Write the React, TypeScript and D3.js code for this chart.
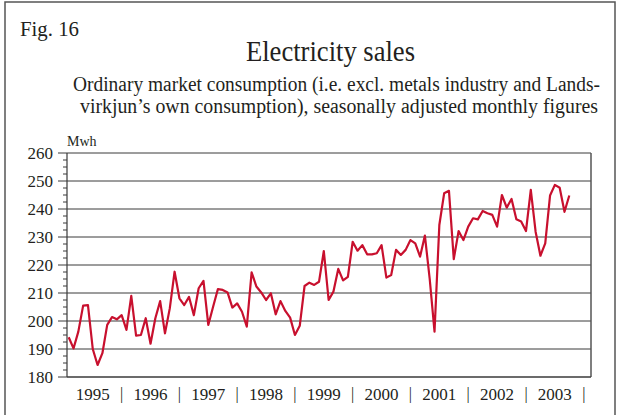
import React from "react";
import * as d3 from "d3";

const title = "Electricity sales";
const subtitle1 = "Ordinary market consumption (i.e. excl. metals industry and Lands-";
const subtitle2 = "virkjun\u2019s own consumption), seasonally adjusted monthly figures";
const figLabel = "Fig. 16";
const unitLabel = "Mwh";

const years = [1995, 1996, 1997, 1998, 1999, 2000, 2001, 2002, 2003];
const yTicks = [180, 190, 200, 210, 220, 230, 240, 250, 260];

// Monthly values, Jan 1995 – Sep 2003
const sales = [
  194.2, 190.2, 196.2, 205.5, 205.7, 190.0, 184.3, 188.5, 198.6, 201.4, 200.6, 202.1,
  196.8, 209.0, 194.8, 195.0, 201.0, 191.9, 201.0, 207.1, 195.6, 204.5, 217.6, 208.1,
  205.7, 208.6, 202.1, 211.7, 214.3, 198.6, 205.1, 211.4, 211.1, 210.2, 204.8, 206.3,
  203.3, 198.0, 217.4, 212.3, 210.2, 207.5, 209.9, 202.4, 207.1, 203.6, 201.2, 195.0,
  198.3, 212.5, 213.7, 212.9, 214.0, 225.0, 207.5, 210.5, 218.6, 214.5, 215.8, 228.3,
  225.1, 227.1, 223.8, 223.8, 224.2, 227.1, 215.5, 216.4, 225.4, 223.6, 225.4, 228.9,
  227.7, 223.0, 230.5, 215.0, 196.2, 234.3, 245.6, 246.5, 222.1, 232.1, 228.9, 233.7,
  236.7, 236.3, 239.3, 238.5, 237.9, 233.7, 245.0, 240.5, 243.6, 236.3, 235.5, 232.1,
  246.8, 231.9, 223.3, 227.7, 244.8, 248.6, 247.6, 239.0, 244.8,
];

export default function App() {
  const W = 621;
  const H = 415;
  const left = 67;
  const right = 591;
  const top = 153;
  const bottom = 377;

  const x = d3.scaleLinear().domain([0, 104]).range([68.7, 569.3]);
  const y = d3.scaleLinear().domain([180, 260]).range([bottom, top]);

  const line = d3
    .line<number>()
    .x((_, i) => x(i))
    .y((d) => y(d));

  const minorTicks = d3.range(180, 260.01, 2.5).filter((v) => v % 10 !== 0);

  const font = "'Liberation Serif', 'Times New Roman', serif";
  const ink = "#231f20";

  return (
    <svg
      width={W}
      height={H}
      style={{ position: "absolute", left: 0, top: 0, background: "#fff" }}
      fontFamily={font}
    >
      <rect x={0} y={0} width={W} height={H} fill="#fff" />
      <rect x={5} y={2} width={610} height={H + 10} fill="none" stroke="#555" strokeWidth={1.5} />

      <text x={20} y={36} fontSize={21} fill={ink} textLength={59} lengthAdjust="spacingAndGlyphs">{figLabel}</text>
      <text x={246} y={61} fontSize={30} fill={ink} textLength={169} lengthAdjust="spacingAndGlyphs">
        {title}
      </text>
      <text x={73} y={91} fontSize={20} fill={ink} textLength={527} lengthAdjust="spacingAndGlyphs">
        {subtitle1}
      </text>
      <text x={80} y={113} fontSize={20} fill={ink} textLength={518} lengthAdjust="spacingAndGlyphs">
        {subtitle2}
      </text>
      <text x={67} y={146} fontSize={14} fill={ink}>{unitLabel}</text>

      {/* gridlines */}
      {yTicks.map((t) => (
        <line key={"g" + t} x1={left} x2={right} y1={y(t)} y2={y(t)} stroke="#3a3a3a" strokeWidth={1} />
      ))}
      {/* major ticks */}
      {yTicks.map((t) => (
        <line key={"t" + t} x1={left - 9} x2={left} y1={y(t)} y2={y(t)} stroke="#3a3a3a" strokeWidth={1} />
      ))}
      {minorTicks.map((t) => (
        <line key={"m" + t} x1={left - 4} x2={left} y1={y(t)} y2={y(t)} stroke="#3a3a3a" strokeWidth={1} />
      ))}
      {yTicks.map((t) => (
        <text key={"l" + t} x={53} y={y(t) + 6} fontSize={17} textAnchor="end" fill={ink}>
          {t}
        </text>
      ))}

      {/* frame of plot */}
      <line x1={left} x2={left} y1={top} y2={bottom} stroke="#3a3a3a" strokeWidth={1.2} />
      <line x1={right} x2={right} y1={top} y2={bottom} stroke="#555" strokeWidth={1.5} />
      <line x1={left} x2={right} y1={bottom} y2={bottom} stroke="#3a3a3a" strokeWidth={1.2} />

      {/* year labels and separators */}
      {years.map((yr, k) => (
        <g key={yr}>
          <text x={x(12 * k + 5)} y={400} fontSize={17} textAnchor="middle" fill={ink}>
            {yr}
          </text>
          <text x={x(12 * (k + 1) - 1)} y={399} fontSize={16} textAnchor="middle" fill={ink}>
            |
          </text>
        </g>
      ))}

      <path d={line(sales) || ""} fill="none" stroke="#c8102e" strokeWidth={2.2} strokeLinejoin="round" />
    </svg>
  );
}
